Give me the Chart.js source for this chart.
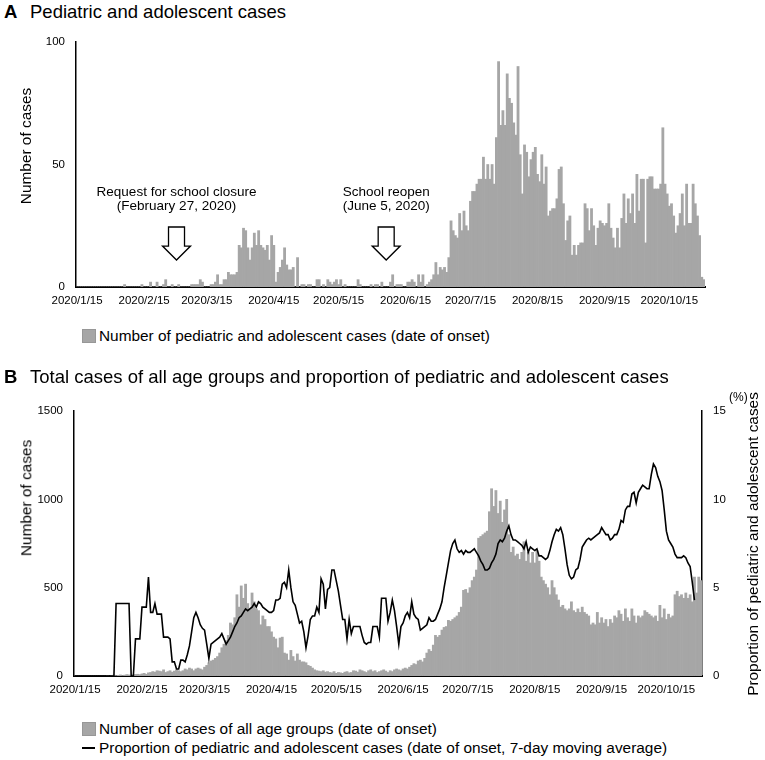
<!DOCTYPE html>
<html>
<head>
<meta charset="utf-8">
<title>Pediatric and adolescent cases</title>
<script src="https://cdn.jsdelivr.net/npm/chart.js@4.4.1/dist/chart.umd.min.js"></script>
<style>
  body { margin: 0; background: #fff; font-family: "Liberation Sans", Arial, sans-serif; color: #000; }
  #page { position: relative; width: 765px; height: 760px; overflow: hidden; }
  canvas, .txt { position: absolute; }
  .txt { white-space: nowrap; line-height: 1; }
  .title { font-size: 18.5px; }
  .title b { position: absolute; left: 0; }
  .title span { position: absolute; left: 26px; }
  .axis-title { font-size: 15.4px; transform: translate(-50%, -50%) rotate(-90deg); }
  .legend { font-size: 15.4px; transform: translateY(-50%); }
  .swatch { position: absolute; width: 12px; height: 12px; background: #a6a6a6; border: 1px solid #979797; }
  .dash { position: absolute; width: 13px; height: 2px; background: #000; }
</style>
</head>
<body>
<div id="page">
  <div class="txt title" style="left:4px; top:3px;"><b>A</b><span>Pediatric and adolescent cases</span></div>
  <canvas id="chartA" width="765" height="320" style="left:0; top:0;"></canvas>
  <div class="txt axis-title" style="left:26px; top:146px;">Number of cases</div>
  <div class="swatch" style="left:82px; top:329px;"></div>
  <div class="txt legend" style="left:99px; top:336px;">Number of pediatric and adolescent cases (date of onset)</div>

  <div class="txt title" style="left:4px; top:368px;"><b>B</b><span>Total cases of all age groups and proportion of pediatric and adolescent cases</span></div>
  <canvas id="chartB" width="765" height="330" style="left:0; top:370px;"></canvas>
  <div class="txt axis-title" style="left:26px; top:498px;">Number of cases</div>
  <div class="txt axis-title" style="left:753px; top:544px;">Proportion of pediatric and adolescent cases</div>
  <div class="txt" style="left:729px; top:391px; font-size:12px;">(%)</div>
  <div class="swatch" style="left:82px; top:722px;"></div>
  <div class="txt legend" style="left:99px; top:729px;">Number of cases of all age groups (date of onset)</div>
  <div class="dash" style="left:82px; top:747px;"></div>
  <div class="txt legend" style="left:99px; top:748px;">Proportion of pediatric and adolescent cases (date of onset, 7-day moving average)</div>
</div>

<script>
// one label per day, 2020/1/15 .. 2020/10/31
const dayLabels = [];
for (let d = new Date(2020, 0, 15); d <= new Date(2020, 9, 31); d.setDate(d.getDate() + 1)) {
    dayLabels.push(d.getFullYear() + '/' + (d.getMonth() + 1) + '/' + d.getDate());
}

// panel A: pediatric and adolescent cases per day
const pediatricCases = [
    0, 0, 0, 0, 0, 0, 0, 0, 0, 0,
    0, 0, 0, 0, 0, 0, 0, 0, 0, 0,
    0, 0, 1, 0, 0, 0, 0, 0, 0, 0,
    1, 0, 0, 0, 2, 0, 0, 2, 0, 0,
    1, 3, 0, 0, 1, 0, 0, 1, 0, 0,
    0, 0, 0, 1, 1, 1, 1, 3, 2, 0,
    0, 0, 1, 1, 2, 5, 1, 1, 3, 3,
    6, 5, 5, 5, 6, 17, 16, 24, 23, 16,
    11, 16, 22, 17, 23, 17, 16, 15, 17, 11,
    21, 17, 2, 6, 8, 11, 16, 9, 7, 7,
    8, 0, 12, 0, 1, 1, 0, 1, 1, 0,
    0, 3, 3, 0, 1, 0, 3, 2, 1, 2,
    3, 1, 3, 0, 1, 0, 0, 0, 0, 0,
    3, 1, 0, 0, 0, 0, 1, 0, 1, 1,
    0, 2, 0, 0, 0, 2, 5, 0, 1, 1,
    1, 0, 0, 2, 2, 3, 2, 0, 5, 2,
    5, 0, 1, 2, 3, 5, 10, 5, 8, 7,
    8, 6, 12, 27, 23, 21, 20, 30, 23, 31,
    25, 23, 35, 39, 39, 42, 44, 44, 53, 44,
    50, 44, 50, 42, 61, 92, 66, 72, 66, 87,
    77, 75, 67, 62, 90, 54, 38, 58, 55, 45,
    52, 55, 57, 46, 43, 54, 42, 49, 29, 31,
    32, 32, 36, 48, 49, 34, 19, 27, 29, 13,
    17, 13, 17, 18, 18, 34, 32, 23, 32, 25,
    17, 24, 27, 26, 25, 26, 34, 24, 20, 16,
    24, 16, 28, 38, 26, 36, 30, 38, 26, 46,
    31, 44, 44, 18, 44, 45, 45, 40, 40, 40,
    42, 65, 42, 38, 33, 34, 29, 22, 25, 30,
    38, 25, 42, 26, 26, 42, 34, 29, 21, 4,
    3
];

// panel B: cases of all age groups per day
const totalCases = [
    0, 0, 0, 0, 0, 0, 0, 0, 0, 0,
    0, 0, 0, 0, 0, 2, 0, 3, 5, 2,
    4, 6, 3, 5, 8, 6, 4, 7, 9, 10,
    8, 12, 15, 10, 18, 20, 25, 22, 30, 28,
    25, 35, 20, 25, 30, 22, 28, 35, 30, 25,
    30, 40, 35, 45, 40, 30, 40, 45, 40, 35,
    50, 60, 75, 85, 90, 100, 110, 130, 160, 180,
    200, 230, 300, 290, 330, 460, 390, 510, 440, 520,
    410, 380, 470, 420, 380, 370, 290, 340, 320, 280,
    280, 250, 220, 210, 160, 215, 220, 130, 125, 90,
    145, 110, 85, 125, 90, 80, 80, 75, 60, 55,
    45, 35, 30, 28, 25, 30, 22, 25, 20, 18,
    25, 15, 20, 18, 15, 22, 25, 18, 20, 30,
    28, 22, 35, 30, 25, 20, 30, 35, 25, 30,
    20, 25, 30, 35, 28, 20, 30, 25, 35, 40,
    35, 30, 40, 45, 40, 50, 60, 70, 65, 85,
    90, 80, 100, 130, 150, 140, 175, 230, 220, 230,
    260, 275, 280, 315, 310, 320, 330, 340, 360, 390,
    485, 490, 470, 500, 540, 560, 600, 780, 790, 800,
    810, 820, 930, 1060, 960, 1050, 920, 990, 870, 940,
    1000, 800, 700, 730, 680, 690, 660, 700, 760, 650,
    700, 640, 700, 640, 710, 650, 560, 540, 520, 500,
    460, 540, 500, 460, 430, 390, 400, 380, 370, 380,
    420, 370, 360, 380, 360, 390, 360, 350, 340, 290,
    300, 290, 360, 300, 330, 300, 320, 280, 320, 300,
    340, 330, 370, 350, 310, 380, 330, 310, 380, 340,
    300, 340, 330, 340, 370, 360, 350, 340, 330, 340,
    310, 400, 330, 380, 320, 350, 330, 340, 460, 480,
    450, 460, 440, 470, 440, 460, 420, 560, 470, 560,
    540
];

// panel B: proportion of pediatric and adolescent cases (%), 7-day moving average
const pediatricShare = [
    0, 0, 0, 0, 0, 0, 0, 0, 0, 0,
    0, 0, 0, 0, 0, 0, 0, 0, 0, 4.1,
    4.1, 4.1, 4.1, 4.1, 4.1, 4.1, 0, 0, 2.1, 2.1,
    2.1, 3.9, 3.9, 3.9, 5.6, 3.6, 3.6, 4.1, 3.5, 3.5,
    3.5, 2.2, 2.2, 2.2, 2.1, 0.8, 0.8, 0.4, 0.4, 0.9,
    0.9, 0.8, 1.2, 1.7, 2.5, 3.3, 3.6, 3.3, 2.9, 2.7,
    2.6, 1.8, 1.0, 1.8, 1.9, 2.0, 2.1, 2.2, 2.4, 2.1,
    1.8, 2.0, 2.2, 2.5, 2.8, 3.0, 3.3, 3.4, 3.6, 3.8,
    3.7, 3.8, 3.9, 4.1, 3.9, 4.2, 4.1, 3.9, 3.8, 3.7,
    3.6, 3.6, 3.7, 4.3, 4.3, 4.4, 5.2, 5.3, 5.0, 6.0,
    5.0, 4.2, 4.0, 3.5, 3.0, 3.1, 2.5, 1.6, 2.3, 3.2,
    3.4, 3.4, 3.9, 3.6, 5.5, 5.2, 3.8, 4.9, 5.0, 6.0,
    6.0, 5.4, 4.8, 4.0, 3.2, 3.2, 2.1, 3.2, 2.4, 2.8,
    2.8, 2.8, 2.8, 2.3, 1.9, 1.8, 1.9, 1.9, 2.8, 2.8,
    2.8, 2.2, 4.4, 4.4, 4.4, 3.1, 3.6, 4.3, 3.7, 2.8,
    1.8, 2.8, 3.0, 3.4, 3.6, 3.3, 4.2, 3.5, 3.3, 3.2,
    2.6, 2.7, 2.8, 2.9, 3.3, 3.1, 3.1, 3.2, 3.5, 3.8,
    4.2, 5.0, 5.7, 6.4, 7.1, 7.5, 7.7, 7.2, 7.0, 7.1,
    6.9, 7.1, 7.0, 7.0, 7.1, 7.2, 7.0, 6.8, 6.5, 6.3,
    6.0, 6.0, 6.1, 6.4, 6.6, 6.9, 7.5, 7.7, 7.6, 7.8,
    8.2, 8.5, 8.0, 7.7, 7.7, 7.6, 7.5, 7.4, 7.2, 7.6,
    7.0, 7.3, 7.2, 7.1, 7.2, 6.8, 6.8, 6.7, 6.6, 6.7,
    7.1, 7.6, 8.0, 8.3, 8.2, 8.4, 8.0, 7.2, 6.3, 5.7,
    5.5, 5.6, 6.0, 6.1, 6.6, 7.3, 7.5, 7.7, 7.8, 7.7,
    7.8, 7.9, 8.0, 8.1, 8.4, 8.2, 8.0, 8.0, 7.7, 7.8,
    8.0, 8.0, 8.3, 8.8, 8.7, 9.4, 9.6, 9.6, 10.3, 10.4,
    9.8, 10.4, 10.6, 10.8, 10.7, 10.6, 10.6, 11.4, 12.0, 11.8,
    11.3, 11.0, 10.5, 9.4, 8.2, 7.7, 7.5, 7.3, 6.9, 6.7,
    6.7, 6.7, 6.8, 6.7, 6.4, 6.2, 5.3, 4.3, null, null,
    null
];

// arrows with notes in panel A
const schoolNotes = [
    { date: '2020/3/1', lines: ['Request for school closure', '(February 27, 2020)'] },
    { date: '2020/6/6', lines: ['School reopen', '(June 5, 2020)'] }
];

const barGray = '#a6a6a6';
Chart.defaults.font.family = '"Liberation Sans", Arial, sans-serif';
Chart.defaults.color = '#000';

const showMidMonth = function (value) {
    const label = this.getLabelForValue(value);
    return label.endsWith('/15') ? label : null;
};

const dateAxis = height => ({
    grid: { display: false, drawTicks: false },
    border: { color: '#000', width: 2 },
    ticks: { autoSkip: false, maxRotation: 0, padding: 7, font: { size: 11.5 }, callback: showMidMonth },
    afterFit: scale => { scale.height = height; }
});

const countAxis = (max, step, width) => ({
    min: 0,
    max: max,
    grid: { display: false, drawTicks: false },
    border: { color: '#000', width: 1.5 },
    ticks: { stepSize: step, padding: 11, font: { size: 11.5 }, callback: v => String(v) },
    afterFit: scale => { scale.width = width; }
});

const notesPlugin = {
    id: 'schoolNotes',
    afterDatasetsDraw(chart) {
        const c = chart.ctx, x = chart.scales.x, y = chart.scales.y;
        c.save();
        c.font = '13.5px "Liberation Sans", Arial, sans-serif';
        c.textAlign = 'center';
        c.textBaseline = 'middle';
        c.strokeStyle = '#000';
        c.lineWidth = 1.3;
        schoolNotes.forEach(note => {
            const cx = x.getPixelForValue(dayLabels.indexOf(note.date));
            c.fillStyle = '#000';
            c.fillText(note.lines[0], cx, y.getPixelForValue(38.5));
            c.fillText(note.lines[1], cx, y.getPixelForValue(32.8));
            const top = y.getPixelForValue(24.5), base = y.getPixelForValue(16.7), tip = y.getPixelForValue(11);
            c.beginPath();
            c.moveTo(cx - 8, top);
            c.lineTo(cx + 8, top);
            c.lineTo(cx + 8, base);
            c.lineTo(cx + 14, base);
            c.lineTo(cx, tip);
            c.lineTo(cx - 14, base);
            c.lineTo(cx - 8, base);
            c.closePath();
            c.fillStyle = '#fff';
            c.fill();
            c.stroke();
        });
        c.restore();
    }
};

new Chart(document.getElementById('chartA'), {
    type: 'bar',
    data: {
        labels: dayLabels,
        datasets: [{
            data: pediatricCases,
            backgroundColor: barGray,
            borderWidth: 0,
            barPercentage: 1,
            categoryPercentage: 1
        }]
    },
    options: {
        responsive: false,
        animation: false,
        layout: { padding: { top: 42, right: 60, bottom: 0, left: 0 } },
        plugins: { legend: { display: false }, tooltip: { enabled: false } },
        scales: {
            x: dateAxis(33),
            y: countAxis(100, 50, 76)
        }
    },
    plugins: [notesPlugin]
});

const shareAxis = countAxis(15, 5, 63);
shareAxis.position = 'right';

new Chart(document.getElementById('chartB'), {
    type: 'bar',
    data: {
        labels: dayLabels,
        datasets: [{
            type: 'line',
            data: pediatricShare,
            yAxisID: 'y2',
            borderColor: '#000',
            borderWidth: 1.6,
            pointRadius: 0,
            tension: 0,
            fill: false,
            order: 0
        }, {
            data: totalCases,
            yAxisID: 'y',
            backgroundColor: barGray,
            borderWidth: 0,
            barPercentage: 1,
            categoryPercentage: 1,
            order: 1
        }]
    },
    options: {
        responsive: false,
        animation: false,
        layout: { padding: { top: 41, right: 0, bottom: 0, left: 0 } },
        plugins: { legend: { display: false }, tooltip: { enabled: false } },
        scales: {
            x: dateAxis(24),
            y: countAxis(1500, 500, 74),
            y2: shareAxis
        }
    }
});
</script>
</body>
</html>
